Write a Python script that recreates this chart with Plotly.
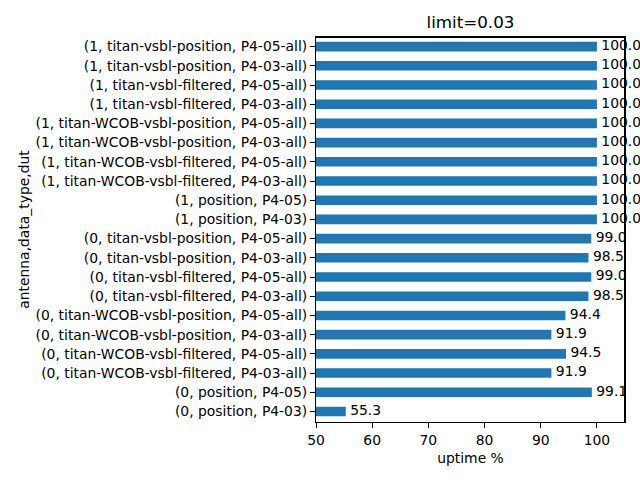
import plotly.graph_objects as go

categories = [
    "(0, position, P4-03)",
    "(0, position, P4-05)",
    "(0, titan-WCOB-vsbl-filtered, P4-03-all)",
    "(0, titan-WCOB-vsbl-filtered, P4-05-all)",
    "(0, titan-WCOB-vsbl-position, P4-03-all)",
    "(0, titan-WCOB-vsbl-position, P4-05-all)",
    "(0, titan-vsbl-filtered, P4-03-all)",
    "(0, titan-vsbl-filtered, P4-05-all)",
    "(0, titan-vsbl-position, P4-03-all)",
    "(0, titan-vsbl-position, P4-05-all)",
    "(1, position, P4-03)",
    "(1, position, P4-05)",
    "(1, titan-WCOB-vsbl-filtered, P4-03-all)",
    "(1, titan-WCOB-vsbl-filtered, P4-05-all)",
    "(1, titan-WCOB-vsbl-position, P4-03-all)",
    "(1, titan-WCOB-vsbl-position, P4-05-all)",
    "(1, titan-vsbl-filtered, P4-03-all)",
    "(1, titan-vsbl-filtered, P4-05-all)",
    "(1, titan-vsbl-position, P4-03-all)",
    "(1, titan-vsbl-position, P4-05-all)",
]
uptime = [55.3, 99.1, 91.9, 94.5, 91.9, 94.4, 98.5, 99.0, 98.5, 99.0,
          100.0, 100.0, 100.0, 100.0, 100.0, 100.0, 100.0, 100.0, 100.0, 100.0]
x_ticks = [50, 60, 70, 80, 90, 100]

font = "DejaVu Sans"
fs = 13.9

ypos = list(range(len(categories)))

fig = go.Figure()
fig.add_trace(go.Bar(
    x=uptime,
    y=ypos,
    orientation="h",
    width=0.5,
    marker=dict(color="#1f77b4", line=dict(width=0)),
    hoverinfo="skip",
))
fig.add_trace(go.Scatter(
    x=uptime,
    y=ypos,
    mode="text",
    text=[" " + f"{v:.1f}" for v in uptime],
    textposition="middle right",
    textfont=dict(family=font, size=fs, color="black"),
    cliponaxis=False,
    hoverinfo="skip",
))

fig.update_layout(
    width=640, height=480,
    margin=dict(l=316, r=15, t=37, b=58),
    paper_bgcolor="white", plot_bgcolor="white",
    showlegend=False,
    font=dict(family=font, size=fs, color="black"),
    title=dict(text="limit=0.03", x=(316 + 625) / 2 / 640, xanchor="center",
               y=1 - 22 / 480, yanchor="middle",
               font=dict(family=font, size=16.7, color="black")),
)
fig.add_shape(type="line", xref="paper", yref="paper", x0=0, x1=1, y0=1, y1=1,
              line=dict(color="black", width=2), layer="above")
fig.add_shape(type="line", xref="paper", yref="paper", x0=1, x1=1, y0=0, y1=1,
              line=dict(color="black", width=2), layer="above")
fig.update_xaxes(
    range=[50, 105], tickvals=x_ticks, ticktext=[str(t) for t in x_ticks],
    showgrid=False, zeroline=False, automargin=False,
    showline=True, linecolor="black", linewidth=1, mirror=True,
    ticks="outside", ticklen=5, tickcolor="black",
    tickfont=dict(family=font, size=fs, color="black"),
    title=dict(text="uptime %", font=dict(family=font, size=fs, color="black"), standoff=6),
)
fig.update_yaxes(
    range=[-0.55, 19.5],
    tickvals=ypos, ticktext=categories,
    showgrid=False, zeroline=False, automargin=False,
    showline=True, linecolor="black", linewidth=1, mirror=True,
    ticks="outside", ticklen=5, tickcolor="black",
    tickfont=dict(family=font, size=fs, color="black"),
    title=dict(text="antenna,data_type,dut", font=dict(family=font, size=fs, color="black"), standoff=2),
)

fig.write_html("out.html", config={"displayModeBar": False},
               post_script="document.body.style.margin='0';document.body.style.overflow='hidden';")
